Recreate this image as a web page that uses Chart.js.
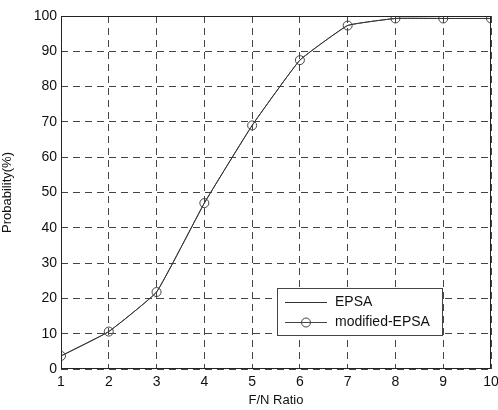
<!DOCTYPE html>
<html>
<head>
<meta charset="utf-8">
<script src="https://cdn.jsdelivr.net/npm/chart.js@4"></script>
<style>
  html, body { margin: 0; padding: 0; background: #fff; }
  #wrap { width: 498px; height: 410px; }
</style>
</head>
<body>
<div id="wrap"><canvas id="probChart" width="498" height="410"></canvas></div>
<script>
const ratios = [1, 2, 3, 4, 5, 6, 7, 8, 9, 10];
const epsa = [3.7, 10.6, 21.8, 47, 69, 87.5, 97.3, 99.3, 99.3, 99.3];
const modifiedEpsa = [3.7, 10.6, 21.8, 47, 69, 87.5, 97.3, 99.3, 99.3, 99.3];
const seriesNames = ['EPSA', 'modified-EPSA'];

const fontFamily = "'Liberation Sans', Arial, sans-serif";

// box around the plot + legend inside the axes, like the matlab figure
const boxAndLegend = {
    id: 'boxAndLegend',
    afterDraw(chart) {
        const { ctx, chartArea: a } = chart;
        ctx.save();
        ctx.strokeStyle = '#222';
        ctx.lineWidth = 1;
        ctx.strokeRect(a.left + 0.5, a.top + 0.5, a.right - a.left - 1, a.bottom - a.top - 1);

        const x0 = 277, y0 = 288, w = 165, h = 47;
        ctx.fillStyle = '#fff';
        ctx.fillRect(x0, y0, w, h);
        ctx.strokeStyle = '#444';
        ctx.strokeRect(x0 + 0.5, y0 + 0.5, w, h);

        ctx.font = '14px ' + fontFamily;
        ctx.textBaseline = 'middle';
        const rows = [y0 + 14, y0 + 34];
        chart.data.datasets.forEach((ds, i) => {
            const y = rows[i] + 0.5;
            ctx.strokeStyle = ds.borderColor;
            ctx.lineWidth = 1;
            ctx.beginPath();
            ctx.moveTo(x0 + 8, y);
            ctx.lineTo(x0 + 50, y);
            ctx.stroke();
            if (ds.pointRadius > 0) {
                ctx.beginPath();
                ctx.arc(x0 + 29, y, 4.5, 0, Math.PI * 2);
                ctx.stroke();
            }
            ctx.fillStyle = '#111';
            ctx.fillText(ds.label, x0 + 58, y);
        });
        ctx.restore();
    }
};

const ctx = document.getElementById('probChart').getContext('2d');

new Chart(ctx, {
    type: 'line',
    data: {
        labels: ratios,
        datasets: [
            {
                label: seriesNames[0],
                data: ratios.map((r, i) => ({ x: r, y: epsa[i] })),
                borderColor: '#333',
                borderWidth: 1,
                pointRadius: 0,
                fill: false,
                tension: 0.1
            },
            {
                label: seriesNames[1],
                data: ratios.map((r, i) => ({ x: r, y: modifiedEpsa[i] })),
                borderColor: '#444',
                borderWidth: 1,
                pointRadius: 4.5,
                pointBackgroundColor: 'rgba(0,0,0,0)',
                pointBorderColor: '#444',
                pointBorderWidth: 1,
                fill: false,
                tension: 0.1
            }
        ]
    },
    options: {
        responsive: false,
        animation: false,
        layout: { padding: { top: 16, right: 0, bottom: 0, left: 0 } },
        plugins: {
            legend: { display: false },
            tooltip: { enabled: false }
        },
        scales: {
            x: {
                type: 'linear',
                min: 1,
                max: 10,
                afterFit(axis) {
                    axis.height = 41;
                    axis.paddingRight = 7;
                },
                ticks: {
                    stepSize: 1,
                    color: '#111',
                    padding: 5,
                    font: { family: fontFamily, size: 14 }
                },
                title: {
                    display: true,
                    text: 'F/N Ratio',
                    color: '#111',
                    padding: { top: 2, bottom: 2 },
                    font: { family: fontFamily, size: 13 }
                },
                grid: {
                    color: '#444',
                    lineWidth: 1,
                    drawTicks: false
                },
                border: { display: false, dash: [7, 5] }
            },
            y: {
                min: 0,
                max: 100,
                afterFit(axis) { axis.width = 61; },
                ticks: {
                    stepSize: 10,
                    color: '#111',
                    padding: 4,
                    font: { family: fontFamily, size: 14 }
                },
                title: {
                    display: true,
                    text: 'Probability(%)',
                    color: '#111',
                    padding: { top: 0, bottom: 2 },
                    font: { family: fontFamily, size: 13 }
                },
                grid: {
                    color: '#444',
                    lineWidth: 1,
                    drawTicks: false
                },
                border: { display: false, dash: [7, 5] }
            }
        }
    },
    plugins: [boxAndLegend]
});
</script>
</body>
</html>
